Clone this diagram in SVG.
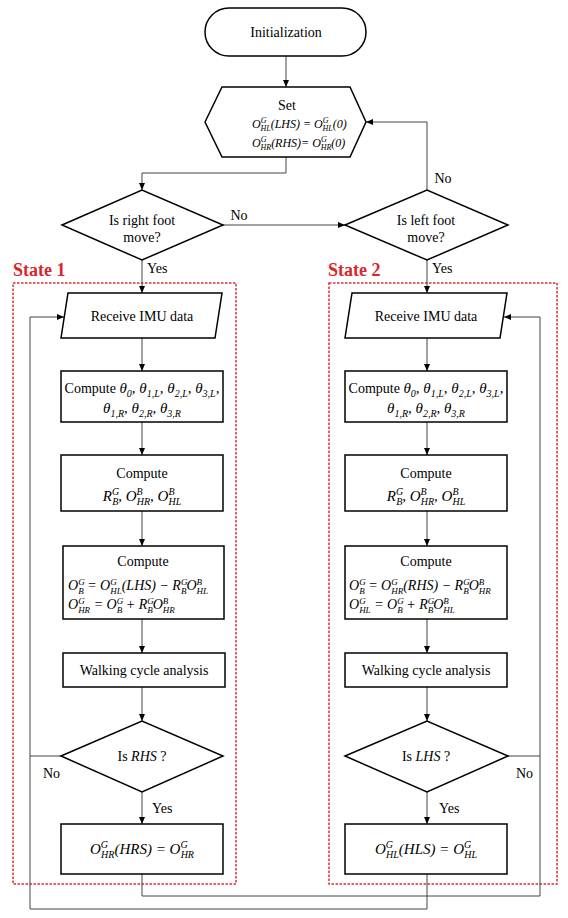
<svg xmlns="http://www.w3.org/2000/svg" width="568" height="918" viewBox="0 0 568 918">
<style>
.bx{fill:#fff;stroke:#000;stroke-width:1.5}
.t{font-family:"Liberation Serif","Times New Roman",serif;font-size:14px;fill:#000}
.m{font-family:"Liberation Serif","Times New Roman",serif;font-style:italic;font-size:15px;fill:#000}
.s{font-size:10px;font-style:italic}
.m3{font-family:"Liberation Serif","Times New Roman",serif;font-style:italic;font-size:14px;fill:#000}
.s3{font-size:9px;font-style:italic}
.m2{font-family:"Liberation Serif","Times New Roman",serif;font-style:italic;font-size:12px;fill:#000}
.s2{font-size:8px;font-style:italic}
.st{font-family:"Liberation Serif","Times New Roman",serif;font-weight:bold;font-size:18px;fill:#d9262b}
.dash{fill:none;stroke:#e03030;stroke-width:1.5;stroke-dasharray:2.5 1.5}
.c{fill:none;stroke:#444;stroke-width:1}
.ca{fill:none;stroke:#444;stroke-width:1;marker-end:url(#ah)}
</style>
<defs>
<marker id="ah" markerWidth="8" markerHeight="8" refX="7" refY="4" orient="auto" markerUnits="userSpaceOnUse"><path d="M0,1 L7,4 L0,7 z" fill="#000"/></marker>
</defs>
<rect width="568" height="918" fill="#fff"/>

<g id="state1">
<rect class="dash" x="13" y="283" width="223" height="601"/>
<text class="st" x="13" y="276">State 1</text>
</g>
<g id="state2">
<rect class="dash" x="329" y="283" width="228" height="601"/>
<text class="st" x="328" y="276">State 2</text>
</g>

<g id="connectors">
<path class="ca" d="M286,56 V87"/>
<path class="ca" d="M286,157 V173 H142 V190"/>
<path class="ca" d="M223,225 H345"/>
<path class="ca" d="M427,190 V122 H366"/>
<path class="ca" d="M142,260 V293"/>
<path class="ca" d="M427,260 V293"/>
<path class="ca" d="M142,338 V371"/>
<path class="ca" d="M427,338 V371"/>
<path class="ca" d="M142,422 V455"/>
<path class="ca" d="M427,422 V455"/>
<path class="ca" d="M142,511 V546"/>
<path class="ca" d="M427,511 V546"/>
<path class="ca" d="M142,619 V653"/>
<path class="ca" d="M427,619 V653"/>
<path class="ca" d="M142,687 V721"/>
<path class="ca" d="M427,687 V721"/>
<path class="ca" d="M142,792 V824"/>
<path class="ca" d="M427,792 V824"/>
<path class="c" d="M61,756 H30"/>
<path class="ca" d="M427,874 V909 H30 V317 H64"/>
<path class="c" d="M508,756 H540"/>
<path class="ca" d="M142,874 V896 H540 V317 H504"/>
<text class="t" x="239" y="220" text-anchor="middle">No</text>
<text class="t" x="443" y="183" text-anchor="middle">No</text>
<text class="t" x="147" y="273">Yes</text>
<text class="t" x="432" y="273">Yes</text>
<text class="t" x="152" y="813">Yes</text>
<text class="t" x="439" y="813">Yes</text>
<text class="t" x="43" y="778">No</text>
<text class="t" x="516" y="778">No</text>
</g>

<g id="init">
<rect class="bx" x="205" y="8" width="161" height="48" rx="24"/>
<text class="t" x="286" y="37" text-anchor="middle" font-size="15">Initialization</text>
</g>

<g id="set">
<polygon class="bx" points="205,122 222,87 350,87 366,122 350,157 222,157"/>
<text class="t" x="287" y="110" text-anchor="middle">Set</text>
<text class="m2" x="252" y="128">O<tspan class="s2" dy="-5">G</tspan><tspan class="s2" dx="-6" dy="8">HL</tspan><tspan dy="-3">(LHS) = O</tspan><tspan class="s2" dy="-5">G</tspan><tspan class="s2" dx="-6" dy="8">HL</tspan><tspan dy="-3">(0)</tspan></text>
<text class="m2" x="252" y="147">O<tspan class="s2" dy="-5">G</tspan><tspan class="s2" dx="-6" dy="8">HR</tspan><tspan dy="-3">(RHS)= O</tspan><tspan class="s2" dy="-5">G</tspan><tspan class="s2" dx="-6" dy="8">HR</tspan><tspan dy="-3">(0)</tspan></text>
</g>

<g id="rightfoot">
<polygon class="bx" points="62,225 142,190 223,225 142,260"/>
<text class="t" x="142" y="225" text-anchor="middle">Is right foot</text>
<text class="t" x="142" y="242" text-anchor="middle">move?</text>
</g>

<g id="leftfoot">
<polygon class="bx" points="345,225 427,190 508,225 427,260"/>
<text class="t" x="426" y="225" text-anchor="middle">Is left foot</text>
<text class="t" x="426" y="242" text-anchor="middle">move?</text>
</g>

<g id="imu1">
<polygon class="bx" points="68,293 222,293 215,338 61,338"/>
<text class="t" x="142" y="321" text-anchor="middle">Receive IMU data</text>
</g>
<g id="imu2">
<polygon class="bx" points="352,293 507,293 500,338 345,338"/>
<text class="t" x="426" y="321" text-anchor="middle">Receive IMU data</text>
</g>

<g id="theta1">
<rect class="bx" x="61" y="371" width="162" height="51"/>
<text class="t" x="142" y="393" text-anchor="middle">Compute <tspan class="m">θ</tspan><tspan class="s" dy="4" font-style="normal">0</tspan><tspan class="m" dy="-4">, θ</tspan><tspan class="s" dy="4">1,L</tspan><tspan class="m" dy="-4">, θ</tspan><tspan class="s" dy="4">2,L</tspan><tspan class="m" dy="-4">, θ</tspan><tspan class="s" dy="4">3,L</tspan><tspan class="m" dy="-4">,</tspan></text>
<text class="m" x="142" y="413" text-anchor="middle">θ<tspan class="s" dy="4">1,R</tspan><tspan dy="-4">, θ</tspan><tspan class="s" dy="4">2,R</tspan><tspan dy="-4">, θ</tspan><tspan class="s" dy="4">3,R</tspan></text>
</g>
<g id="theta2">
<rect class="bx" x="345" y="371" width="162" height="51"/>
<text class="t" x="426" y="393" text-anchor="middle">Compute <tspan class="m">θ</tspan><tspan class="s" dy="4" font-style="normal">0</tspan><tspan class="m" dy="-4">, θ</tspan><tspan class="s" dy="4">1,L</tspan><tspan class="m" dy="-4">, θ</tspan><tspan class="s" dy="4">2,L</tspan><tspan class="m" dy="-4">, θ</tspan><tspan class="s" dy="4">3,L</tspan><tspan class="m" dy="-4">,</tspan></text>
<text class="m" x="426" y="413" text-anchor="middle">θ<tspan class="s" dy="4">1,R</tspan><tspan dy="-4">, θ</tspan><tspan class="s" dy="4">2,R</tspan><tspan dy="-4">, θ</tspan><tspan class="s" dy="4">3,R</tspan></text>
</g>

<g id="rot1">
<rect class="bx" x="61" y="455" width="162" height="56"/>
<text class="t" x="142" y="478" text-anchor="middle">Compute</text>
<text class="m" x="142" y="501" text-anchor="middle">R<tspan class="s" dy="-6">G</tspan><tspan class="s" dx="-7" dy="10">B</tspan><tspan dy="-4">, O</tspan><tspan class="s" dy="-6">B</tspan><tspan class="s" dx="-6" dy="10">HR</tspan><tspan dy="-4">, O</tspan><tspan class="s" dy="-6">B</tspan><tspan class="s" dx="-6" dy="10">HL</tspan></text>
</g>
<g id="rot2">
<rect class="bx" x="345" y="455" width="162" height="56"/>
<text class="t" x="426" y="478" text-anchor="middle">Compute</text>
<text class="m" x="426" y="501" text-anchor="middle">R<tspan class="s" dy="-6">G</tspan><tspan class="s" dx="-7" dy="10">B</tspan><tspan dy="-4">, O</tspan><tspan class="s" dy="-6">B</tspan><tspan class="s" dx="-6" dy="10">HR</tspan><tspan dy="-4">, O</tspan><tspan class="s" dy="-6">B</tspan><tspan class="s" dx="-6" dy="10">HL</tspan></text>
</g>

<g id="pos1">
<rect class="bx" x="63" y="546" width="161" height="73"/>
<text class="t" x="143" y="566" text-anchor="middle">Compute</text>
<text class="m3" x="68" y="590">O<tspan class="s3" dy="-5">G</tspan><tspan class="s3" dx="-6.5" dy="9">B</tspan><tspan dy="-4"> = O</tspan><tspan class="s3" dy="-5">G</tspan><tspan class="s3" dx="-6.5" dy="9">HL</tspan><tspan dy="-4">(LHS) − R</tspan><tspan class="s3" dy="-5">G</tspan><tspan class="s3" dx="-6.5" dy="9">B</tspan><tspan dy="-4">O</tspan><tspan class="s3" dy="-5">B</tspan><tspan class="s3" dx="-5.5" dy="9">HL</tspan></text>
<text class="m3" x="68" y="609">O<tspan class="s3" dy="-5">G</tspan><tspan class="s3" dx="-6.5" dy="9">HR</tspan><tspan dy="-4"> = O</tspan><tspan class="s3" dy="-5">G</tspan><tspan class="s3" dx="-6.5" dy="9">B</tspan><tspan dy="-4"> + R</tspan><tspan class="s3" dy="-5">G</tspan><tspan class="s3" dx="-6.5" dy="9">B</tspan><tspan dy="-4">O</tspan><tspan class="s3" dy="-5">B</tspan><tspan class="s3" dx="-5.5" dy="9">HR</tspan></text>
</g>
<g id="pos2">
<rect class="bx" x="345" y="546" width="162" height="73"/>
<text class="t" x="426" y="566" text-anchor="middle">Compute</text>
<text class="m3" x="349" y="590">O<tspan class="s3" dy="-5">G</tspan><tspan class="s3" dx="-6.5" dy="9">B</tspan><tspan dy="-4"> = O</tspan><tspan class="s3" dy="-5">G</tspan><tspan class="s3" dx="-6.5" dy="9">HR</tspan><tspan dy="-4">(RHS) − R</tspan><tspan class="s3" dy="-5">G</tspan><tspan class="s3" dx="-6.5" dy="9">B</tspan><tspan dy="-4">O</tspan><tspan class="s3" dy="-5">B</tspan><tspan class="s3" dx="-5.5" dy="9">HR</tspan></text>
<text class="m3" x="349" y="609">O<tspan class="s3" dy="-5">G</tspan><tspan class="s3" dx="-6.5" dy="9">HL</tspan><tspan dy="-4"> = O</tspan><tspan class="s3" dy="-5">G</tspan><tspan class="s3" dx="-6.5" dy="9">B</tspan><tspan dy="-4"> + R</tspan><tspan class="s3" dy="-5">G</tspan><tspan class="s3" dx="-6.5" dy="9">B</tspan><tspan dy="-4">O</tspan><tspan class="s3" dy="-5">B</tspan><tspan class="s3" dx="-5.5" dy="9">HL</tspan></text>
</g>

<g id="walk1">
<rect class="bx" x="63" y="653" width="162" height="34"/>
<text class="t" x="144" y="675" text-anchor="middle">Walking cycle analysis</text>
</g>
<g id="walk2">
<rect class="bx" x="345" y="653" width="162" height="34"/>
<text class="t" x="426" y="675" text-anchor="middle">Walking cycle analysis</text>
</g>

<g id="rhs">
<polygon class="bx" points="61,756 142,721 223,756 142,792"/>
<text class="t" x="142" y="761" text-anchor="middle">Is <tspan font-style="italic">RHS</tspan> ?</text>
</g>
<g id="lhs">
<polygon class="bx" points="345,756 427,721 508,756 427,792"/>
<text class="t" x="426" y="761" text-anchor="middle">Is <tspan font-style="italic">LHS</tspan> ?</text>
</g>

<g id="hrs">
<rect class="bx" x="61" y="824" width="162" height="50"/>
<text class="m" x="142" y="854" text-anchor="middle">O<tspan class="s" dy="-6">G</tspan><tspan class="s" dx="-7" dy="10">HR</tspan><tspan dy="-4">(HRS) = O</tspan><tspan class="s" dy="-6">G</tspan><tspan class="s" dx="-7" dy="10">HR</tspan></text>
</g>
<g id="hls">
<rect class="bx" x="345" y="824" width="162" height="50"/>
<text class="m" x="426" y="854" text-anchor="middle">O<tspan class="s" dy="-6">G</tspan><tspan class="s" dx="-7" dy="10">HL</tspan><tspan dy="-4">(HLS) = O</tspan><tspan class="s" dy="-6">G</tspan><tspan class="s" dx="-7" dy="10">HL</tspan></text>
</g>
</svg>
